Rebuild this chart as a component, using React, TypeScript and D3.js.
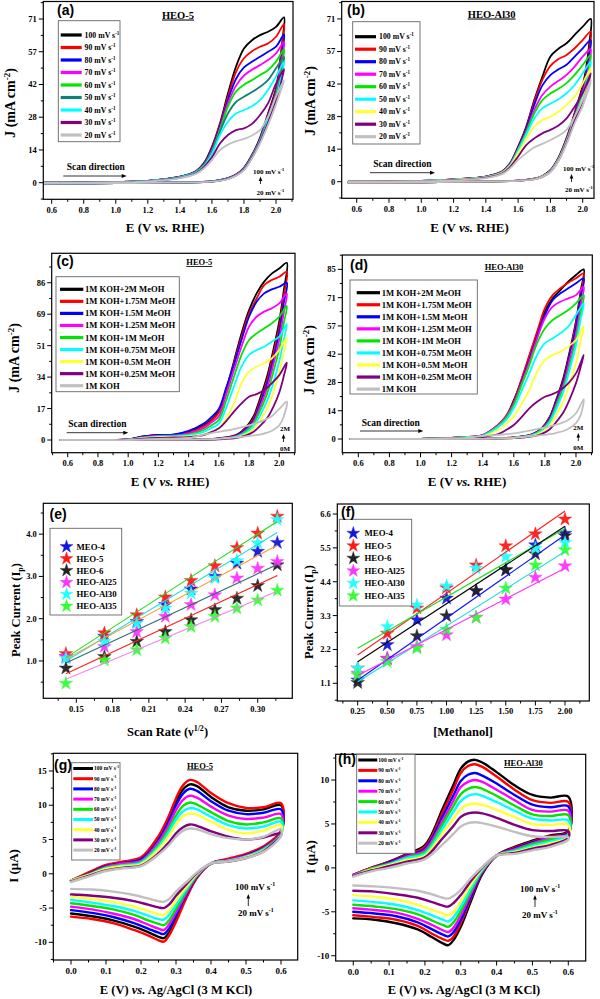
import React from "react";
import * as d3 from "d3";

// ---------------- categories / labels ----------------
const SCAN_RATES = ["100", "90", "80", "70", "60", "50", "40", "30", "20"];
const MEOH_LABELS = [
  "1M KOH+2M MeOH", "1M KOH+1.75M MeOH", "1M KOH+1.5M MeOH", "1M KOH+1.25M MeOH",
  "1M KOH+1M MeOH", "1M KOH+0.75M MeOH", "1M KOH+0.5M MeOH", "1M KOH+0.25M MeOH", "1M KOH",
];
const SAMPLES = ["MEO-4", "HEO-5", "HEO-6", "HEO-Al25", "HEO-Al30", "HEO-Al35"];

// ---------------- palettes ----------------
const COLORS_A = ["#000000", "#ff0000", "#0000ff", "#ff00ff", "#00e600", "#158078", "#00ffff", "#800080", "#c0c0c0"];
const COLORS_B = ["#000000", "#ff0000", "#0000ff", "#ff00ff", "#00e600", "#00ffff", "#ffff33", "#800080", "#c0c0c0"];
const COLORS_S = ["#1515e0", "#ff1a1a", "#222222", "#ff33ff", "#22ffff", "#33ff33"];
const FIT_COLORS_E = ["#22dd22", "#22dddd", "#ff9933", "#2f6f6f", "#ff2020", "#ee88ee"];
const FIT_COLORS_F = ["#ff2020", "#22dd22", "#000000", "#1010ff", "#22dddd", "#ff30ff"];

// ---------------- ticks ----------------
const X_TICKS_RHE = [0.6, 0.8, 1.0, 1.2, 1.4, 1.6, 1.8, 2.0];
const Y_TICKS_AB = [0, 14.2, 28.4, 42.6, 56.8, 71];
const Y_LABELS_AB = ["0", "14", "28", "42", "57", "71"];
const Y_TICKS_C = [0, 17.2, 34.4, 51.6, 68.8, 86];
const Y_LABELS_C = ["0", "17", "34", "51", "69", "86"];
const Y_TICKS_D = [0, 14.17, 28.33, 42.5, 56.67, 70.83, 85];
const Y_LABELS_D = ["0", "14", "28", "42", "57", "71", "85"];
const X_TICKS_E = [0.15, 0.18, 0.21, 0.24, 0.27, 0.3];
const Y_TICKS_E = [1, 2, 3, 4];
const X_TICKS_F = [0.25, 0.5, 0.75, 1.0, 1.25, 1.5, 1.75, 2.0];
const Y_TICKS_F = [1.1, 2.2, 3.3, 4.4, 5.5, 6.6];
const X_TICKS_GH = [0, 0.1, 0.2, 0.3, 0.4, 0.5, 0.6];
const Y_TICKS_G = [-10, -5, 0, 5, 10, 15];
const Y_TICKS_H = [-10, -5, 0, 5, 10];

// ---------------- (a) / (b) LSV-CV data ----------------
const E_FWD_AB = [0.55, 0.8, 1.0, 1.2, 1.4, 1.5, 1.55, 1.6, 1.65, 1.7, 1.75, 1.8, 1.85, 1.9, 1.95, 2.0, 2.05];
const E_REV_AB = [2.04, 2.02, 2.0, 1.95, 1.9, 1.85, 1.8, 1.75, 1.7, 1.6, 1.4, 1.0, 0.55];

const J_FWD_A = [
  [0, 0.1, 0.3, 0.8, 2.6, 5.0, 8.5, 15.6, 25.7, 38.7, 50.3, 58.2, 61.8, 64.0, 65.5, 67.6, 71.7],
  [0, 0.1, 0.3, 0.8, 2.5, 4.9, 8.2, 15.0, 25.0, 37.3, 48.0, 54.0, 57.0, 59.0, 60.4, 63.3, 68.8],
  [0, 0.1, 0.3, 0.8, 2.5, 4.8, 8.0, 14.6, 24.3, 35.8, 45.0, 50.0, 52.5, 54.6, 56.8, 59.0, 64.3],
  [0, 0.1, 0.3, 0.8, 2.4, 4.7, 7.8, 14.0, 23.6, 34.4, 42.0, 46.5, 49.0, 51.0, 53.2, 56.1, 61.1],
  [0, 0.1, 0.3, 0.8, 2.4, 4.6, 7.6, 13.5, 22.8, 33.0, 39.5, 42.5, 44.5, 46.7, 48.8, 52.5, 57.8],
  [0, 0.1, 0.3, 0.7, 2.3, 4.5, 7.4, 13.0, 22.1, 30.0, 35.0, 37.3, 39.3, 41.6, 44.5, 49.6, 54.6],
  [0, 0.1, 0.3, 0.7, 2.3, 4.4, 7.2, 12.5, 20.7, 26.5, 30.0, 31.5, 33.2, 35.8, 40.2, 46.0, 52.4],
  [0, 0.1, 0.2, 0.6, 2.1, 4.1, 6.8, 11.0, 17.0, 20.7, 22.8, 23.6, 25.5, 29.3, 34.4, 43.0, 49.3],
  [0, 0.0, 0.2, 0.6, 2.0, 3.8, 6.2, 9.8, 14.2, 16.5, 18.0, 19.0, 20.5, 22.8, 28.6, 37.3, 44.5],
];
const J_REV_A = [
  [62, 50, 41, 30, 19.5, 12, 6.5, 3.5, 2, 0.6, 0.1, -0.2, -0.4],
  [60, 49, 40, 29.5, 19, 11.8, 6.3, 3.4, 1.9, 0.6, 0.1, -0.2, -0.4],
  [57, 47, 39, 29, 18.8, 11.6, 6.2, 3.3, 1.9, 0.6, 0.1, -0.2, -0.4],
  [55, 46, 38.5, 28.5, 18.5, 11.5, 6.1, 3.3, 1.8, 0.6, 0.1, -0.2, -0.4],
  [52, 44, 38, 28, 18.3, 11.3, 6, 3.2, 1.8, 0.6, 0.1, -0.2, -0.4],
  [50, 43, 37, 27.5, 18, 11.2, 5.9, 3.2, 1.8, 0.5, 0.1, -0.2, -0.4],
  [48, 42, 36.5, 27, 17.8, 11, 5.8, 3.1, 1.7, 0.5, 0.1, -0.2, -0.4],
  [46, 40, 35.5, 26, 17.5, 10.8, 5.7, 3.1, 1.7, 0.5, 0.1, -0.2, -0.4],
  [42, 38, 34, 25, 17, 10.5, 5.5, 3, 1.6, 0.5, 0.1, -0.2, -0.4],
];
const J_FWD_B = [
  [0, 0.1, 0.3, 1.0, 2.2, 4.4, 8.0, 15.3, 24.0, 35.6, 45.8, 54.6, 58.0, 60.4, 64.0, 67.6, 71.0],
  [0, 0.1, 0.3, 1.0, 2.2, 4.4, 7.9, 15.0, 23.5, 34.9, 44.4, 50.5, 53.5, 55.3, 58.2, 61.8, 65.5],
  [0, 0.1, 0.3, 1.0, 2.2, 4.3, 7.8, 14.7, 23.0, 33.5, 42.0, 46.5, 49.0, 51.0, 54.6, 58.2, 61.8],
  [0, 0.1, 0.3, 0.9, 2.1, 4.2, 7.6, 14.3, 22.0, 31.3, 37.8, 41.5, 44.0, 46.6, 50.2, 54.6, 57.8],
  [0, 0.1, 0.3, 0.9, 2.1, 4.1, 7.4, 14.0, 21.5, 29.8, 35.6, 38.5, 40.5, 43.0, 46.6, 50.9, 55.3],
  [0, 0.1, 0.3, 0.9, 2.0, 4.0, 7.2, 13.5, 20.5, 27.6, 32.0, 34.0, 36.0, 38.6, 42.2, 47.3, 52.4],
  [0, 0.1, 0.2, 0.8, 1.9, 3.8, 6.8, 12.5, 18.5, 24.0, 26.9, 28.4, 30.5, 33.5, 37.1, 42.9, 49.5],
  [0, 0.1, 0.2, 0.7, 1.8, 3.6, 6.4, 11.0, 16.0, 18.9, 21.1, 22.6, 24.5, 27.6, 32.7, 38.6, 47.3],
  [0, 0.0, 0.2, 0.6, 1.6, 3.3, 5.8, 9.5, 12.4, 15.0, 16.5, 18.2, 20.0, 22.6, 28.4, 35.6, 44.4],
];
const J_REV_B = [
  [60, 49, 42, 30, 19, 10.5, 5, 2.5, 1.3, 0.5, 0.1, -0.3, -0.5],
  [57, 47, 41, 29.5, 18.7, 10.3, 4.9, 2.4, 1.3, 0.5, 0.1, -0.3, -0.5],
  [55, 46, 40, 29, 18.4, 10.1, 4.8, 2.4, 1.2, 0.5, 0.1, -0.3, -0.5],
  [52, 44, 39, 28.5, 18.1, 9.9, 4.7, 2.3, 1.2, 0.5, 0.1, -0.3, -0.5],
  [50, 43, 38, 28, 17.8, 9.8, 4.6, 2.3, 1.2, 0.4, 0.1, -0.3, -0.5],
  [48, 42, 37, 27.5, 17.5, 9.6, 4.5, 2.2, 1.1, 0.4, 0.1, -0.3, -0.5],
  [46, 40, 36, 27, 17.2, 9.4, 4.4, 2.2, 1.1, 0.4, 0.1, -0.3, -0.5],
  [44, 39, 35, 26.5, 17, 9.2, 4.3, 2.1, 1.1, 0.4, 0.1, -0.3, -0.5],
  [41, 37, 33, 25.5, 16.5, 9, 4.2, 2.1, 1, 0.4, 0.1, -0.3, -0.5],
];

// ---------------- (c) / (d) methanol data ----------------
const E_FWD_CD = [0.55, 0.9, 1.0, 1.1, 1.2, 1.3, 1.4, 1.5, 1.55, 1.6, 1.65, 1.7, 1.75, 1.8, 1.85, 1.9, 1.95, 2.0, 2.05];
const E_REV_CD = [2.03, 2.0, 1.96, 1.92, 1.87, 1.83, 1.78, 1.72, 1.6, 1.4, 1.0, 0.55];

const J_FWD_C = [
  [0, 0, 0.3, 2.0, 2.8, 3.0, 4.5, 8.0, 11.0, 16.0, 28.0, 43.0, 58.3, 71.0, 80.2, 86.6, 91.0, 93.8, 96.9],
  [0, 0, 0.3, 1.8, 2.6, 2.8, 4.0, 7.5, 10.5, 15.0, 27.0, 42.0, 56.5, 69.2, 77.4, 84.7, 87.5, 89.3, 92.0],
  [0, 0, 0.3, 2.0, 2.8, 3.0, 5.0, 9.0, 12.5, 17.0, 29.0, 41.0, 54.7, 67.4, 75.6, 80.2, 82.4, 83.8, 86.0],
  [0, 0, 0.2, 1.5, 2.2, 2.5, 3.5, 6.5, 9.5, 13.0, 25.0, 38.3, 51.0, 62.0, 67.4, 70.2, 72.0, 74.7, 80.2],
  [0, 0, 0.2, 1.3, 2.0, 2.2, 3.0, 5.5, 8.0, 11.0, 22.0, 34.6, 46.5, 54.7, 58.3, 61.0, 63.8, 67.4, 73.3],
  [0, 0, 0.2, 1.2, 1.8, 2.0, 2.6, 4.5, 6.5, 9.0, 18.0, 29.2, 40.1, 46.5, 49.2, 51.0, 53.8, 56.5, 63.4],
  [0, 0, 0.1, 1.0, 1.5, 1.7, 2.0, 3.2, 4.5, 6.4, 12.0, 20.0, 31.0, 37.4, 40.1, 41.9, 44.6, 49.2, 56.1],
  [0, 0, 0.1, 0.8, 1.2, 1.4, 1.6, 2.7, 4.3, 6.4, 10.5, 15.5, 20.0, 23.7, 25.1, 27.3, 31.0, 35.5, 42.3],
  [0, 0, 0, 0.3, 0.6, 0.8, 1.1, 3.0, 3.8, 4.5, 5.2, 6.0, 7.0, 8.0, 9.3, 10.9, 13.0, 17.0, 21.0],
];
const J_REV_C = [
  [82, 65, 49, 35, 22, 13, 7, 3, 0.9, 0.3, 0, 0],
  [79, 62, 47, 33, 20.5, 12, 6.5, 2.8, 0.8, 0.3, 0, 0],
  [75, 59, 44, 31, 19, 11, 6, 2.6, 0.8, 0.3, 0, 0],
  [70, 55, 41, 28.5, 17.5, 10, 5.4, 2.3, 0.7, 0.2, 0, 0],
  [64, 50, 37, 25.5, 15.5, 9, 4.8, 2, 0.6, 0.2, 0, 0],
  [55, 43, 31, 21.5, 13, 7.5, 4, 1.8, 0.5, 0.2, 0, 0],
  [48, 37, 26, 17.5, 10.5, 6, 3.2, 1.5, 0.5, 0.1, 0, 0],
  [35, 26, 18, 12, 7.5, 4.5, 2.5, 1.2, 0.4, 0.1, 0, 0],
  [13, 8, 5.5, 4, 3, 2.5, 2, 1.5, 0.6, 0.2, 0, 0],
];
const J_FWD_D = [
  [0, 0, 0.1, 0.3, 0.6, 1.0, 1.8, 7.0, 11.2, 19.5, 29.6, 41.2, 53.0, 63.8, 70.5, 74.6, 78.8, 82.2, 85.0],
  [0, 0, 0.1, 0.3, 0.6, 1.0, 2.0, 7.2, 11.5, 18.7, 30.0, 42.0, 53.8, 65.5, 72.1, 75.5, 78.3, 80.5, 83.0],
  [0, 0, 0.1, 0.3, 0.6, 1.0, 1.8, 6.8, 11.0, 17.9, 28.5, 39.6, 51.3, 62.1, 69.6, 73.0, 75.5, 78.0, 80.5],
  [0, 0, 0.1, 0.3, 0.6, 1.0, 2.0, 7.0, 11.0, 17.9, 28.0, 38.7, 50.4, 60.5, 66.3, 68.8, 70.5, 72.1, 76.3],
  [0, 0, 0.1, 0.3, 0.6, 1.0, 1.8, 6.5, 10.5, 17.0, 27.0, 37.0, 48.0, 55.4, 59.6, 62.1, 64.6, 68.0, 72.1],
  [0, 0, 0.1, 0.3, 0.5, 0.9, 1.6, 6.0, 9.5, 15.4, 24.0, 32.9, 42.1, 48.0, 50.4, 53.0, 56.3, 62.1, 68.0],
  [0, 0, 0.1, 0.2, 0.4, 0.7, 1.3, 4.5, 7.5, 11.2, 17.5, 24.5, 33.7, 39.6, 42.1, 43.8, 46.3, 49.6, 56.6],
  [0, 0, 0.1, 0.2, 0.3, 0.5, 1.0, 2.5, 4.5, 7.0, 11.0, 15.4, 18.7, 21.2, 22.5, 24.5, 27.9, 32.9, 42.1],
  [0, 0, 0, 0.1, 0.3, 0.5, 1.5, 2.0, 2.4, 2.8, 3.5, 4.2, 5.0, 5.7, 6.7, 7.8, 9.5, 12.9, 19.9],
];
const J_REV_D = [
  [74, 59, 44, 31, 19, 11, 5.5, 2.5, 0.8, 0.3, 0, 0],
  [73, 58, 43, 30, 18.5, 10.5, 5.3, 2.4, 0.8, 0.3, 0, 0],
  [71, 56, 42, 29, 18, 10, 5.1, 2.3, 0.7, 0.3, 0, 0],
  [67, 53, 40, 27.5, 17, 9.5, 4.9, 2.2, 0.7, 0.2, 0, 0],
  [63, 50, 37, 26, 16, 9, 4.6, 2.1, 0.7, 0.2, 0, 0],
  [60, 47, 35, 24, 14.5, 8.2, 4.2, 1.9, 0.6, 0.2, 0, 0],
  [49, 38, 28, 19, 11.5, 6.5, 3.4, 1.6, 0.5, 0.1, 0, 0],
  [36, 28, 20, 13.5, 8.2, 4.8, 2.6, 1.3, 0.4, 0.1, 0, 0],
  [12, 8, 5.5, 4, 3, 2.4, 1.9, 1.4, 0.5, 0.1, 0, 0],
];

// ---------------- (e) scan-rate dependence ----------------
const SQRT_SCAN = [0.1414, 0.1732, 0.2, 0.2236, 0.2449, 0.2646, 0.2828, 0.3, 0.3162];
const IP_E = [
  [1.1, 1.58, 1.93, 2.33, 2.7, 3.0, 3.31, 3.59, 3.8],
  [1.17, 1.66, 2.09, 2.51, 2.9, 3.25, 3.68, 4.02, 4.42],
  [0.83, 1.1, 1.46, 1.69, 1.97, 2.21, 2.48, 2.78, 3.27],
  [1.1, 1.34, 1.69, 2.05, 2.33, 2.56, 2.96, 3.19, 3.35],
  [1.06, 1.46, 1.89, 2.25, 2.6, 2.96, 3.37, 3.79, 4.34],
  [0.47, 1.02, 1.26, 1.54, 1.81, 2.05, 2.25, 2.44, 2.67],
];
const FIT_E_START = [1.08, 1.0, 1.05, 0.95, 0.7, 0.57];
const FIT_E_END = [4.3, 4.04, 3.74, 3.28, 3.02, 2.65];

// ---------------- (f) methanol dependence ----------------
const METHANOL = [0.25, 0.5, 0.75, 1.0, 1.25, 1.5, 1.75, 2.0];
const IP_F = [
  [1.2, 2.35, 3.16, 3.86, 4.1, 4.78, 5.59, 5.97],
  [1.59, 2.72, 3.54, 4.2, 4.94, 5.56, 5.95, 6.43],
  [1.12, 1.9, 2.64, 3.29, 4.1, 4.78, 5.3, 5.89],
  [1.42, 1.91, 2.29, 2.67, 3.24, 3.83, 4.54, 4.91],
  [1.59, 2.94, 3.64, 4.26, 4.84, 5.21, 5.48, 5.67],
  [1.37, 1.8, 2.24, 2.85, 3.24, 4.19, 4.94, 5.43],
];
const FIT_F_START = [2.02, 2.24, 1.8, 1.2, 1.15, 1.35];
const FIT_F_END = [6.7, 6.13, 6.2, 5.92, 5.38, 4.84];

// ---------------- (g) / (h) ferri/ferrocyanide CVs ----------------
const E_FWD_GH = [0.0, 0.05, 0.1, 0.15, 0.2, 0.25, 0.28, 0.3, 0.32, 0.34, 0.36, 0.4, 0.45, 0.5, 0.55, 0.6];
const E_REV_GH = [0.6, 0.55, 0.5, 0.45, 0.4, 0.36, 0.33, 0.3, 0.28, 0.265, 0.25, 0.22, 0.18, 0.12, 0.06, 0.0];

const I_FWD_G = [
  [-1.0, 0.1, 1.2, 1.7, 2.2, 5.1, 8.1, 10.5, 12.3, 13.05, 12.8, 11.2, 9.7, 9.2, 9.4, 10.0],
  [-1.0, 0.2, 1.3, 1.8, 2.4, 5.5, 8.5, 11.0, 12.9, 13.7, 13.4, 11.8, 10.3, 9.6, 9.7, 10.3],
  [-1.0, 0.0, 1.1, 1.6, 2.1, 4.9, 7.7, 10.0, 11.7, 12.4, 12.1, 10.6, 9.2, 8.7, 8.9, 9.4],
  [-1.0, -0.1, 1.0, 1.5, 1.9, 4.6, 7.2, 9.3, 10.8, 11.4, 11.1, 9.8, 8.5, 8.0, 8.2, 8.7],
  [-1.0, -0.1, 0.9, 1.3, 1.7, 4.2, 6.6, 8.5, 9.9, 10.4, 10.1, 9.0, 7.7, 7.2, 7.5, 8.1],
  [-1.0, -0.2, 0.8, 1.2, 1.6, 3.9, 6.1, 7.9, 9.1, 9.6, 9.4, 8.3, 7.1, 6.6, 6.9, 7.6],
  [-1.0, -0.2, 0.7, 1.1, 1.4, 3.6, 5.6, 7.2, 8.4, 8.8, 8.6, 7.6, 6.4, 5.9, 6.3, 7.1],
  [-1.1, -0.3, 0.5, 0.9, 1.2, 3.0, 4.6, 5.9, 6.8, 7.2, 7.0, 6.2, 5.4, 5.0, 5.3, 5.9],
  [-1.2, -0.4, 0.4, 0.8, 1.1, 2.8, 4.2, 5.4, 6.3, 6.6, 6.5, 5.8, 5.2, 5.0, 5.4, 6.5],
];
const I_REV_G = [
  [6.1, 3.9, 2.8, 2.1, 1.5, -0.5, -3.3, -6.6, -8.6, -9.4, -9.2, -8.5, -7.7, -6.8, -6.2, -5.8],
  [6.3, 4.0, 2.9, 2.2, 1.5, -0.6, -3.5, -7.0, -9.0, -9.9, -9.7, -9.0, -8.2, -7.2, -6.6, -6.25],
  [6.0, 3.8, 2.7, 2.0, 1.5, -0.4, -3.0, -6.1, -8.0, -8.8, -8.6, -8.0, -7.2, -6.3, -5.7, -5.3],
  [5.9, 3.7, 2.6, 2.0, 1.5, -0.3, -2.8, -5.6, -7.4, -8.2, -8.0, -7.4, -6.6, -5.8, -5.2, -4.8],
  [5.8, 3.6, 2.5, 1.9, 1.5, -0.2, -2.5, -5.1, -6.8, -7.5, -7.3, -6.8, -6.0, -5.2, -4.7, -4.3],
  [5.7, 3.5, 2.5, 1.9, 1.5, -0.1, -2.2, -4.5, -6.0, -6.7, -6.6, -6.1, -5.4, -4.7, -4.2, -3.8],
  [5.6, 3.4, 2.4, 1.8, 1.5, 0.0, -1.9, -3.9, -5.4, -6.0, -5.9, -5.4, -4.8, -4.1, -3.7, -3.3],
  [5.6, 3.3, 2.3, 1.8, 1.5, 0.1, -1.5, -3.2, -4.5, -5.0, -4.9, -4.5, -4.0, -3.5, -3.2, -3.0],
  [5.5, 3.2, 2.3, 1.8, 1.5, 0.2, -1.2, -2.6, -3.7, -4.1, -4.0, -3.6, -3.1, -2.6, -2.3, -2.2],
];
const I_FWD_H = [
  [-0.8, 0.0, 0.7, 1.6, 2.6, 6.8, 9.5, 11.3, 12.1, 12.3, 12.0, 10.9, 9.4, 8.3, 8.0, 8.1],
  [-0.8, 0.0, 0.65, 1.5, 2.4, 6.4, 9.0, 10.8, 11.6, 11.8, 11.5, 10.4, 8.9, 7.7, 7.4, 7.5],
  [-0.8, -0.1, 0.6, 1.4, 2.2, 5.9, 8.3, 9.9, 10.6, 10.8, 10.5, 9.6, 8.3, 7.2, 6.9, 7.0],
  [-0.8, -0.1, 0.5, 1.3, 2.0, 5.4, 7.7, 9.2, 9.8, 10.0, 9.8, 8.9, 7.7, 6.6, 6.4, 6.5],
  [-0.9, -0.1, 0.45, 1.2, 1.8, 5.0, 7.1, 8.4, 9.0, 9.2, 9.0, 8.2, 7.1, 6.1, 5.9, 6.0],
  [-0.9, -0.2, 0.4, 1.1, 1.6, 4.5, 6.4, 7.6, 8.2, 8.4, 8.2, 7.5, 6.5, 5.6, 5.4, 5.4],
  [-0.9, -0.2, 0.3, 0.9, 1.4, 4.0, 5.6, 6.7, 7.2, 7.3, 7.2, 6.6, 5.8, 5.0, 4.9, 4.9],
  [-0.9, -0.3, 0.2, 0.7, 1.2, 3.4, 4.8, 5.8, 6.2, 6.3, 6.2, 5.7, 4.9, 4.3, 4.2, 4.2],
  [-1.0, -0.4, 0.0, 0.5, 1.0, 2.7, 3.9, 4.7, 5.1, 5.2, 5.1, 4.7, 4.1, 3.6, 3.5, 3.5],
];
const I_REV_H = [
  [4.2, 3.7, 3.1, 2.4, 1.4, -0.7, -3.6, -6.7, -8.2, -8.8, -8.6, -7.9, -7.0, -6.3, -5.9, -5.75],
  [4.1, 3.6, 3.0, 2.3, 1.4, -0.6, -3.3, -6.3, -7.8, -8.3, -8.1, -7.5, -6.6, -5.9, -5.6, -5.4],
  [4.0, 3.5, 2.9, 2.2, 1.4, -0.5, -3.1, -5.9, -7.3, -7.8, -7.6, -7.0, -6.2, -5.5, -5.2, -5.0],
  [3.9, 3.4, 2.8, 2.1, 1.4, -0.4, -2.8, -5.4, -6.8, -7.3, -7.1, -6.5, -5.8, -5.1, -4.8, -4.6],
  [3.8, 3.2, 2.7, 2.0, 1.4, -0.3, -2.5, -4.9, -6.2, -6.7, -6.5, -6.0, -5.3, -4.7, -4.4, -4.2],
  [3.7, 3.0, 2.5, 1.9, 1.4, -0.2, -2.2, -4.4, -5.6, -6.1, -5.9, -5.4, -4.8, -4.2, -3.9, -3.7],
  [3.5, 2.8, 2.3, 1.8, 1.4, -0.1, -1.8, -3.8, -5.0, -5.4, -5.2, -4.8, -4.2, -3.6, -3.3, -3.1],
  [3.4, 2.6, 2.2, 1.7, 1.4, 0.0, -1.4, -3.1, -4.0, -4.4, -4.3, -3.9, -3.4, -3.0, -2.7, -2.6],
  [3.2, 2.4, 2.0, 1.6, 1.4, 0.1, -1.1, -2.5, -3.2, -3.5, -3.4, -3.0, -2.6, -2.3, -2.1, -2.0],
];

// =====================================================================
const SERIF = "'Liberation Serif','Times New Roman',serif";
const SANS = "'Liberation Sans',Arial,sans-serif";

type Frame = { x0: number; x1: number; y0: number; y1: number; xd: [number, number]; yd: [number, number] };

function minorsOf(ticks: number[], dom: [number, number]) {
  const out: number[] = [];
  const step = ticks[1] - ticks[0];
  const lo = Math.min(dom[0], dom[1]);
  const hi = Math.max(dom[0], dom[1]);
  for (let i = -1; i < ticks.length; i++) {
    const m = ticks[0] + step * (i + 0.5);
    if (m > lo && m < hi) out.push(m);
  }
  return out;
}

function scalesOf(f: Frame) {
  const xs = d3.scaleLinear().domain(f.xd).range([f.x0, f.x1]);
  const ys = d3.scaleLinear().domain(f.yd).range([f.y1, f.y0]);
  return { xs, ys };
}

function Axes({ f, xTicks, xLabels, yTicks, yLabels, fs = 8.5 }: any) {
  const { xs, ys } = scalesOf(f);
  const xm = minorsOf(xTicks, f.xd);
  const ym = minorsOf(yTicks, f.yd);
  return (
    <g fontFamily={SERIF} fontWeight="bold" fontSize={fs}>
      <rect x={f.x0} y={f.y0} width={f.x1 - f.x0} height={f.y1 - f.y0} fill="none" stroke="#000" strokeWidth={1.2} />
      {yTicks.map((t: number, i: number) => (
        <g key={"yt" + i}>
          <line x1={f.x0} x2={f.x0 - 4.5} y1={ys(t)} y2={ys(t)} stroke="#000" strokeWidth={1} />
          <text x={f.x0 - 6.5} y={ys(t) + fs * 0.35} textAnchor="end">{yLabels[i]}</text>
        </g>
      ))}
      {ym.map((t, i) => (
        <line key={"ym" + i} x1={f.x0} x2={f.x0 - 2.5} y1={ys(t)} y2={ys(t)} stroke="#000" strokeWidth={1} />
      ))}
      {xTicks.map((t: number, i: number) => (
        <g key={"xt" + i}>
          <line x1={xs(t)} x2={xs(t)} y1={f.y1} y2={f.y1 + 4.5} stroke="#000" strokeWidth={1} />
          <text x={xs(t)} y={f.y1 + 7 + fs * 0.75} textAnchor="middle">{xLabels[i]}</text>
        </g>
      ))}
      {xm.map((t, i) => (
        <line key={"xm" + i} x1={xs(t)} x2={xs(t)} y1={f.y1} y2={f.y1 + 2.5} stroke="#000" strokeWidth={1} />
      ))}
    </g>
  );
}

function cvPath(f: Frame, fe: number[], fj: number[], re: number[], rj: number[]) {
  const { xs, ys } = scalesOf(f);
  const pts: [number, number][] = [
    ...fe.map((e, i) => [e, fj[i]] as [number, number]),
    ...re.map((e, i) => [e, rj[i]] as [number, number]),
  ];
  const line = d3.line<[number, number]>().x((d) => xs(d[0])).y((d) => ys(d[1])).curve(d3.curveCatmullRom.alpha(0.5));
  return line(pts) || "";
}

function Curves({ f, fe, fJ, re, rJ, colors, sw }: any) {
  const id = "clip" + Math.round(f.x0) + "_" + Math.round(f.y0);
  return (
    <g>
      <defs>
        <clipPath id={id}>
          <rect x={f.x0} y={f.y0} width={f.x1 - f.x0} height={f.y1 - f.y0} />
        </clipPath>
      </defs>
      <g clipPath={`url(#${id})`}>
        {fJ.map((arr: number[], i: number) => (
          <path key={i} d={cvPath(f, fe, arr, re, rJ[i])} fill="none" stroke={colors[i]} strokeWidth={sw}
            strokeLinejoin="round" strokeLinecap="round" />
        ))}
      </g>
    </g>
  );
}

function SupText({ x, y, base, sup, fs, anchor = "start" }: any) {
  return (
    <text x={x} y={y} fontSize={fs} textAnchor={anchor} fontWeight="bold" fontFamily={SERIF}>
      {base}
      <tspan dy={-fs * 0.4} fontSize={fs * 0.65}>{sup}</tspan>
    </text>
  );
}

function LineLegend({ box, y0, step, lx0, lx1, tx, fs, colors, labels, sup, lw }: any) {
  return (
    <g>
      <rect x={box[0]} y={box[1]} width={box[2] - box[0]} height={box[3] - box[1]} fill="#fff" stroke="#666" strokeWidth={0.9} />
      {labels.map((lab: string, i: number) => {
        const y = y0 + i * step;
        return (
          <g key={i}>
            <line x1={lx0} x2={lx1} y1={y} y2={y} stroke={colors[i]} strokeWidth={lw} />
            {sup ? (
              <SupText x={tx} y={y + fs * 0.35} base={lab + " mV s"} sup="-1" fs={fs} />
            ) : (
              <text x={tx} y={y + fs * 0.35} fontSize={fs} fontWeight="bold" fontFamily={SERIF}>{lab}</text>
            )}
          </g>
        );
      })}
    </g>
  );
}

function HArrow({ x0, x1, y }: any) {
  return (
    <g>
      <line x1={x0} x2={x1 - 3} y1={y} y2={y} stroke="#000" strokeWidth={0.8} />
      <path d={`M${x1},${y} L${x1 - 5},${y - 2} L${x1 - 5},${y + 2} Z`} fill="#000" />
    </g>
  );
}
function VArrow({ x, y0, y1 }: any) {
  return (
    <g>
      <line x1={x} x2={x} y1={y0} y2={y1 + 3} stroke="#000" strokeWidth={0.8} />
      <path d={`M${x},${y1} L${x - 1.8},${y1 + 4.5} L${x + 1.8},${y1 + 4.5} Z`} fill="#000" />
    </g>
  );
}

function PanelLetter({ x, y, t }: any) {
  return (
    <text x={x} y={y} fontFamily={SANS} fontWeight="bold" fontSize={14}>{t}</text>
  );
}

function Title({ x, y, t, fs = 10 }: any) {
  return (
    <text x={x} y={y} textAnchor="middle" fontFamily={SERIF} fontWeight="bold" fontSize={fs}
      style={{ textDecoration: "underline" }}>{t}</text>
  );
}

function XTitleRHE({ x, y }: any) {
  return (
    <text x={x} y={y} textAnchor="middle" fontFamily={SERIF} fontWeight="bold" fontSize={13}>
      E (V <tspan fontStyle="italic">vs.</tspan> RHE)
    </text>
  );
}
function YTitleJ({ x, y }: any) {
  return (
    <text transform={`translate(${x},${y}) rotate(-90)`} textAnchor="middle" fontFamily={SERIF} fontWeight="bold" fontSize={14}>
      J (mA cm<tspan dy={-5} fontSize={9}>-2</tspan><tspan dy={5}>)</tspan>
    </text>
  );
}
function XTitleAg({ x, y }: any) {
  return (
    <text x={x} y={y} textAnchor="middle" fontFamily={SERIF} fontWeight="bold" fontSize={12.5}>
      E (V) <tspan fontStyle="italic">vs.</tspan> Ag/AgCl (3 M KCl)
    </text>
  );
}
function YTitleI({ x, y }: any) {
  return (
    <text transform={`translate(${x},${y}) rotate(-90)`} textAnchor="middle" fontFamily={SERIF} fontWeight="bold" fontSize={13}>
      I (μA)
    </text>
  );
}
function YTitleIp({ x, y }: any) {
  return (
    <text transform={`translate(${x},${y}) rotate(-90)`} textAnchor="middle" fontFamily={SERIF} fontWeight="bold" fontSize={12.5}>
      Peak Current (I<tspan dy={3} fontSize={8}>p</tspan><tspan dy={-3}>)</tspan>
    </text>
  );
}

const fmt1 = (v: number) => v.toFixed(1);
const fmt2 = (v: number) => v.toFixed(2);

// ---------------- panels ----------------
function PanelA() {
  const f: Frame = { x0: 43.3, x1: 293, y0: 1.5, y1: 199.3, xd: [0.5476, 2.106], yd: [-7.2, 78.6] };
  return (
    <g>
      <Curves f={f} fe={E_FWD_AB} fJ={J_FWD_A} re={E_REV_AB} rJ={J_REV_A} colors={COLORS_A} sw={1.8} />
      <Axes f={f} xTicks={X_TICKS_RHE} xLabels={X_TICKS_RHE.map(fmt1)} yTicks={Y_TICKS_AB} yLabels={Y_LABELS_AB} />
      <LineLegend box={[58.3, 20.7, 120, 141.7]} y0={35} step={12.5} lx0={60.7} lx1={81.7} tx={84.5} fs={7.8}
        colors={COLORS_A} labels={SCAN_RATES} sup lw={3.2} />
      <PanelLetter x={57} y={15} t="(a)" />
      <Title x={178} y={18.5} t="HEO-5" fs={10.5} />
      <text x={66.7} y={170} fontFamily={SERIF} fontWeight="bold" fontSize={9.5}>Scan direction</text>
      <HArrow x0={63.3} x1={126.7} y={176} />
      <SupText x={253} y={173.5} base="100 mV s" sup="-1" fs={7} />
      <VArrow x={260.5} y0={184} y1={176.5} />
      <SupText x={256.5} y={195} base="20 mV s" sup="-1" fs={7} />
      <YTitleJ x={14.5} y={103} />
      <XTitleRHE x={165} y={232} />
    </g>
  );
}

function PanelB() {
  const f: Frame = { x0: 341.7, x1: 594, y0: 1.5, y1: 198.3, xd: [0.507, 2.07], yd: [-7.24, 78.6] };
  return (
    <g>
      <Curves f={f} fe={E_FWD_AB} fJ={J_FWD_B} re={E_REV_AB} rJ={J_REV_B} colors={COLORS_B} sw={1.8} />
      <Axes f={f} xTicks={X_TICKS_RHE} xLabels={X_TICKS_RHE.map(fmt1)} yTicks={Y_TICKS_AB} yLabels={Y_LABELS_AB} />
      <LineLegend box={[352.7, 21.7, 420, 144]} y0={36.7} step={12.5} lx0={355} lx1={376} tx={379} fs={7.8}
        colors={COLORS_B} labels={SCAN_RATES} sup lw={3.2} />
      <PanelLetter x={347} y={15} t="(b)" />
      <Title x={491.7} y={17.5} t="HEO-Al30" fs={10.5} />
      <text x={373.3} y={167} fontFamily={SERIF} fontWeight="bold" fontSize={9.5}>Scan direction</text>
      <HArrow x0={370} x1={435} y={172.7} />
      <SupText x={563} y={171} base="100 mV s" sup="-1" fs={7} />
      <VArrow x={571.5} y0={182} y1={174} />
      <SupText x={565} y={191.5} base="20 mV s" sup="-1" fs={7} />
      <YTitleJ x={314.5} y={101} />
      <XTitleRHE x={469.5} y={232} />
    </g>
  );
}

function PanelC() {
  const f: Frame = { x0: 51.7, x1: 295, y0: 253.3, y1: 452.7, xd: [0.494, 2.104], yd: [-6.94, 102.1] };
  return (
    <g>
      <Curves f={f} fe={E_FWD_CD} fJ={J_FWD_C} re={E_REV_CD} rJ={J_REV_C} colors={COLORS_B} sw={1.8} />
      <Axes f={f} xTicks={X_TICKS_RHE} xLabels={X_TICKS_RHE.map(fmt1)} yTicks={Y_TICKS_C} yLabels={Y_LABELS_C} />
      <LineLegend box={[56, 276.7, 179.3, 391.7]} y0={289.3} step={12.05} lx0={60} lx1={83.3} tx={85} fs={8.6}
        colors={COLORS_B} labels={MEOH_LABELS} lw={3.2} />
      <PanelLetter x={56.5} y={266} t="(c)" />
      <Title x={199.3} y={265} t="HEO-5" fs={8.5} />
      <text x={68.3} y={426.5} fontFamily={SERIF} fontWeight="bold" fontSize={9.5}>Scan direction</text>
      <HArrow x0={66.7} x1={128.3} y={432.7} />
      <text x={285} y={431} textAnchor="middle" fontFamily={SERIF} fontWeight="bold" fontSize={7}>2M</text>
      <VArrow x={283.5} y0={442} y1={434} />
      <text x={285} y={451} textAnchor="middle" fontFamily={SERIF} fontWeight="bold" fontSize={7}>0M</text>
      <YTitleJ x={18.5} y={358} />
      <XTitleRHE x={170} y={486} />
    </g>
  );
}

function PanelD() {
  const f: Frame = { x0: 342.3, x1: 592.3, y0: 255, y1: 452.7, xd: [0.497, 2.105], yd: [-6.86, 92.2] };
  return (
    <g>
      <Curves f={f} fe={E_FWD_CD} fJ={J_FWD_D} re={E_REV_CD} rJ={J_REV_D} colors={COLORS_B} sw={1.8} />
      <Axes f={f} xTicks={X_TICKS_RHE} xLabels={X_TICKS_RHE.map(fmt1)} yTicks={Y_TICKS_D} yLabels={Y_LABELS_D} />
      <LineLegend box={[350, 280, 477.3, 394]} y0={292.7} step={12.05} lx0={356.7} lx1={380} tx={381.7} fs={8.6}
        colors={COLORS_B} labels={MEOH_LABELS} lw={3.2} />
      <PanelLetter x={350} y={270} t="(d)" />
      <Title x={504} y={270} t="HEO-Al30" fs={8.5} />
      <text x={361.7} y={426} fontFamily={SERIF} fontWeight="bold" fontSize={9.5}>Scan direction</text>
      <HArrow x0={360} x1={423.3} y={431} />
      <text x={578.3} y={430} textAnchor="middle" fontFamily={SERIF} fontWeight="bold" fontSize={7}>2M</text>
      <VArrow x={578.3} y0={441} y1={433} />
      <text x={578.3} y={449.5} textAnchor="middle" fontFamily={SERIF} fontWeight="bold" fontSize={7}>0M</text>
      <YTitleJ x={314} y={360} />
      <XTitleRHE x={467} y={486} />
    </g>
  );
}

function StarLegend({ box, y0, step, sx, tx, fs, colors, labels, size }: any) {
  const star = d3.symbol().type(d3.symbolStar).size(size)() || "";
  return (
    <g>
      <rect x={box[0]} y={box[1]} width={box[2] - box[0]} height={box[3] - box[1]} fill="#fff" stroke="#666" strokeWidth={0.9} />
      {labels.map((lab: string, i: number) => (
        <g key={i}>
          <path d={star} transform={`translate(${sx},${y0 + i * step})`} fill={colors[i]} stroke={colors[i]} strokeWidth={0.4} />
          <text x={tx} y={y0 + i * step + fs * 0.35} fontSize={fs} fontWeight="bold" fontFamily={SERIF}>{lab}</text>
        </g>
      ))}
    </g>
  );
}

function ScatterPanel({ f, xv, data, fitS, fitE, fitC, size }: any) {
  const { xs, ys } = scalesOf(f);
  const star = d3.symbol().type(d3.symbolStar).size(size)() || "";
  const xa = xv[0];
  const xb = xv[xv.length - 1];
  return (
    <g>
      {data.map((arr: number[], i: number) => (
        <g key={"s" + i}>
          {arr.map((v, j) => (
            <path key={j} d={star} transform={`translate(${xs(xv[j])},${ys(v)})`} fill={COLORS_S[i]}
              stroke={COLORS_S[i]} strokeWidth={0.4} opacity={0.95} />
          ))}
        </g>
      ))}
      {fitS.map((s: number, i: number) => (
        <line key={"f" + i} x1={xs(xa)} x2={xs(xb)} y1={ys(s)} y2={ys(fitE[i])} stroke={fitC[i]} strokeWidth={1.1} />
      ))}
    </g>
  );
}

function PanelE() {
  const f: Frame = { x0: 43.3, x1: 292.3, y0: 503.3, y1: 698.3, xd: [0.1227, 0.3286], yd: [0.117, 4.73] };
  return (
    <g>
      <ScatterPanel f={f} xv={SQRT_SCAN} data={IP_E} fitS={FIT_E_START} fitE={FIT_E_END} fitC={FIT_COLORS_E} size={58} />
      <Axes f={f} xTicks={X_TICKS_E} xLabels={X_TICKS_E.map(fmt2)} yTicks={Y_TICKS_E} yLabels={Y_TICKS_E.map(fmt1)} />
      <StarLegend box={[50, 528.3, 121.7, 615]} y0={546.7} step={11.9} sx={66.5} tx={76.5} fs={8.8}
        colors={COLORS_S} labels={SAMPLES} size={52} />
      <PanelLetter x={49.5} y={519} t="(e)" />
      <YTitleIp x={19.5} y={610} />
      <text x={167.5} y={736} textAnchor="middle" fontFamily={SERIF} fontWeight="bold" fontSize={12.5}>
        Scan Rate (ν<tspan dy={-5} fontSize={8}>1/2</tspan><tspan dy={5}>)</tspan>
      </text>
    </g>
  );
}

function PanelF() {
  const f: Frame = { x0: 337.3, x1: 589.3, y0: 504, y1: 701, xd: [0.078, 2.205], yd: [0.525, 6.925] };
  return (
    <g>
      <ScatterPanel f={f} xv={METHANOL} data={IP_F} fitS={FIT_F_START} fitE={FIT_F_END} fitC={FIT_COLORS_F} size={58} />
      <Axes f={f} xTicks={X_TICKS_F} xLabels={X_TICKS_F.map(fmt2)} yTicks={Y_TICKS_F} yLabels={Y_TICKS_F.map(fmt1)} />
      <StarLegend box={[339.3, 519.3, 411.7, 606]} y0={533.3} step={12.5} sx={353.3} tx={364.5} fs={8.8}
        colors={COLORS_S} labels={SAMPLES} size={52} />
      <PanelLetter x={341} y={517} t="(f)" />
      <YTitleIp x={312.5} y={612} />
      <text x={463} y={736} textAnchor="middle" fontFamily={SERIF} fontWeight="bold" fontSize={12.5}>[Methanol]</text>
    </g>
  );
}

function PanelG() {
  const f: Frame = { x0: 53.3, x1: 297.7, y0: 753.3, y1: 960, xd: [-0.0506, 0.6477], yd: [-12.58, 17.58] };
  return (
    <g>
      <Curves f={f} fe={E_FWD_GH} fJ={I_FWD_G} re={E_REV_GH} rJ={I_REV_G} colors={COLORS_B} sw={2.4} />
      <Axes f={f} xTicks={X_TICKS_GH} xLabels={X_TICKS_GH.map(fmt1)} yTicks={Y_TICKS_G} yLabels={Y_TICKS_G.map(String)} fs={9} />
      <LineLegend box={[71.7, 762.7, 120, 860]} y0={768.5} step={10.2} lx0={73.3} lx1={93} tx={94} fs={5.6}
        colors={COLORS_B} labels={SCAN_RATES} sup lw={3} />
      <PanelLetter x={54} y={770} t="(g)" />
      <Title x={200} y={768.5} t="HEO-5" fs={8.5} />
      <SupText x={235} y={890} base="100 mV s" sup="-1" fs={9} />
      <VArrow x={248.3} y0={906} y1={894} />
      <SupText x={238} y={915.5} base="20 mV s" sup="-1" fs={9} />
      <YTitleI x={17.5} y={866} />
      <XTitleAg x={176} y={994} />
    </g>
  );
}

function PanelH() {
  const f: Frame = { x0: 335.7, x1: 585.7, y0: 754.3, y1: 961, xd: [-0.049, 0.6486], yd: [-10.6, 12.93] };
  return (
    <g>
      <Curves f={f} fe={E_FWD_GH} fJ={I_FWD_H} re={E_REV_GH} rJ={I_REV_H} colors={COLORS_B} sw={2.4} />
      <Axes f={f} xTicks={X_TICKS_GH} xLabels={X_TICKS_GH.map(fmt1)} yTicks={Y_TICKS_H} yLabels={Y_TICKS_H.map(String)} fs={9} />
      <LineLegend box={[356.7, 754.3, 415, 853.3]} y0={760} step={10.4} lx0={358.3} lx1={377.3} tx={378.3} fs={5.6}
        colors={COLORS_B} labels={SCAN_RATES} sup lw={3} />
      <PanelLetter x={338} y={764} t="(h)" />
      <Title x={523.3} y={766} t="HEO-Al30" fs={8.5} />
      <SupText x={520} y={891.5} base="100 mV s" sup="-1" fs={9} />
      <VArrow x={535} y0={907} y1={895} />
      <SupText x={522} y={918} base="20 mV s" sup="-1" fs={9} />
      <YTitleI x={314.5} y={857} />
      <XTitleAg x={464} y={994} />
    </g>
  );
}

export default function App() {
  return (
    <svg width={600} height={999} viewBox="0 0 600 999"
      style={{ position: "absolute", left: 0, top: 0, background: "#fff" }}>
      <rect x={0} y={0} width={600} height={999} fill="#fff" />
      <PanelA />
      <PanelB />
      <PanelC />
      <PanelD />
      <PanelE />
      <PanelF />
      <PanelG />
      <PanelH />
    </svg>
  );
}
